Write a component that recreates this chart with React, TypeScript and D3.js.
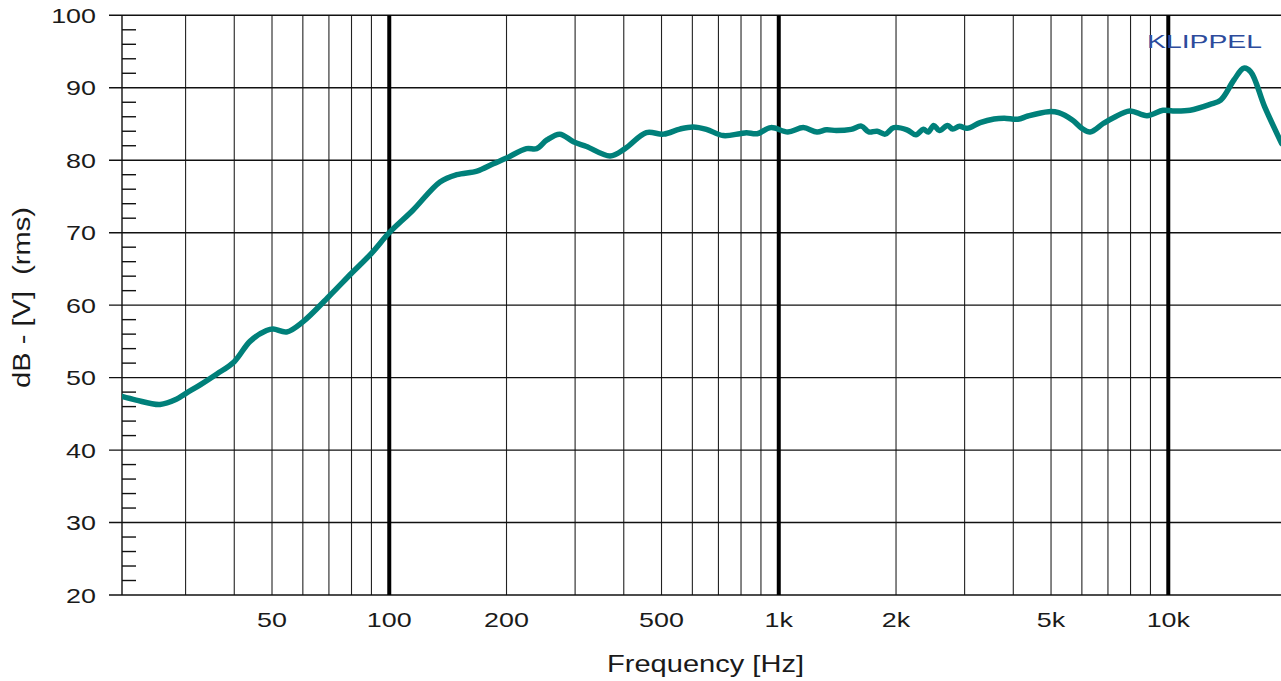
import React from "react";
import * as d3 from "d3";

// Frequency response (Hz, dB)
const freqs: number[] = [
  20.6, 22.4, 25.8, 28.4, 30, 32.7, 36.1, 40, 43.9, 48.4, 50.4, 54.5, 60, 70, 80, 90, 100,
  115, 135, 149, 168, 185, 200, 225, 239, 254, 274, 297, 321, 369, 403, 457, 506, 557, 603,
  652, 720, 794, 826, 880, 954, 1055, 1156, 1253, 1325, 1405, 1533, 1630, 1702, 1788, 1875,
  1973, 2133, 2250, 2350, 2420, 2500, 2584, 2713, 2797, 2910, 3043, 3288, 3570, 3795, 4110,
  4360, 4925, 5230, 5670, 6000, 6300, 6820, 7250, 7960, 8820, 9700, 10270, 11380, 12800,
  13630, 14740, 15620, 16280, 17670, 19550,
];
const levels: number[] = [
  47.4, 46.9, 46.3, 47.0, 47.8, 49.0, 50.5, 52.2, 55.0, 56.5, 56.7, 56.3, 57.7, 61.2, 64.4, 67.15, 70.0,
  73.1, 77.0, 78.0, 78.5, 79.5, 80.3, 81.6, 81.6, 82.8, 83.6, 82.55, 81.9, 80.6, 81.6, 83.8, 83.6, 84.3, 84.6,
  84.26, 83.4, 83.66, 83.8, 83.66, 84.5, 83.9, 84.5, 83.9, 84.2, 84.1, 84.26, 84.7, 83.9, 84.0, 83.6,
  84.5, 84.2, 83.5, 84.26, 83.9, 84.8, 84.1, 84.8, 84.3, 84.7, 84.4, 85.2, 85.7, 85.8, 85.65,
  86.1, 86.7, 86.56, 85.55, 84.4, 83.9, 85.1, 85.9, 86.8, 86.15, 86.9, 86.8, 86.9, 87.7,
  88.3, 91.07, 92.7, 92.2, 87.4, 82.3,
];

const xTickValues: number[] = [50, 100, 200, 500, 1000, 2000, 5000, 10000];
const xTickLabels: string[] = ["50", "100", "200", "500", "1k", "2k", "5k", "10k"];
const majorFreqs: number[] = [100, 1000, 10000];
const minorFreqs: number[] = [
  30, 40, 50, 60, 70, 80, 90, 200, 300, 400, 500, 600, 700, 800, 900,
  2000, 3000, 4000, 5000, 6000, 7000, 8000, 9000,
];
const yTickValues: number[] = [20, 30, 40, 50, 60, 70, 80, 90, 100];
const yMinorValues: number[] = d3.range(22, 100, 2).filter((v) => v % 10 !== 0);

const W = 1281;
const H = 681;
const left = 122;
const right = 1281;
const top = 15.3;
const bottom = 595;

export default function App() {
  const x = d3.scaleLog().domain([20.6, 19470]).range([left, right]);
  const y = d3.scaleLinear().domain([20, 100]).range([bottom, top]);
  const data = freqs.map((f, i) => [f, levels[i]] as [number, number]);
  const line = d3
    .line<[number, number]>()
    .x((d) => x(d[0]))
    .y((d) => y(d[1]))
    .curve(d3.curveCatmullRom.alpha(0.5));
  const font = "'Liberation Sans', Arial, sans-serif";
  const textColor = "#1a1a1a";

  return (
    <svg
      width={W}
      height={H}
      style={{ position: "absolute", left: 0, top: 0, background: "#fff" }}
    >
      <defs>
        <clipPath id="plotClip">
          <rect x={left} y={top - 10} width={right - left} height={bottom - top + 20} />
        </clipPath>
      </defs>
      <rect x={0} y={0} width={W} height={H} fill="#fff" />
      {/* thin vertical grid */}
      {minorFreqs.map((f) => (
        <line key={"v" + f} x1={x(f)} x2={x(f)} y1={top} y2={bottom} stroke="#222" strokeWidth={1.1} />
      ))}
      {/* horizontal grid */}
      {yTickValues.map((v) => (
        <line key={"h" + v} x1={109} x2={right} y1={y(v)} y2={y(v)} stroke="#111" strokeWidth={1.4} />
      ))}
      {/* minor y ticks */}
      {yMinorValues.map((v) => (
        <line key={"m" + v} x1={left} x2={136} y1={y(v)} y2={y(v)} stroke="#111" strokeWidth={1.4} />
      ))}
      {/* left axis */}
      <line x1={left} x2={left} y1={top} y2={bottom} stroke="#111" strokeWidth={1.4} />
      {/* thick decade lines */}
      {majorFreqs.map((f) => (
        <line key={"M" + f} x1={x(f)} x2={x(f)} y1={top} y2={bottom} stroke="#000" strokeWidth={4} />
      ))}
      {/* curve */}
      <g clipPath="url(#plotClip)">
        <path
          d={line(data) || ""}
          fill="none"
          stroke="#00807a"
          strokeWidth={5.5}
          strokeLinejoin="round"
          strokeLinecap="round"
        />
      </g>
      {/* y tick labels */}
      {yTickValues.map((v) => (
        <text
          key={"yl" + v}
          transform={`translate(96,${y(v) + 7.5}) scale(1.28,1)`}
          textAnchor="end"
          fontFamily={font}
          fontSize={21}
          fill={textColor}
        >
          {v}
        </text>
      ))}
      {/* x tick labels */}
      {xTickValues.map((f, i) => (
        <text
          key={"xl" + f}
          transform={`translate(${x(f)},627) scale(1.28,1)`}
          textAnchor="middle"
          fontFamily={font}
          fontSize={21}
          fill={textColor}
        >
          {xTickLabels[i]}
        </text>
      ))}
      {/* axis titles */}
      <text
        x={705.5}
        y={672}
        textAnchor="middle"
        fontFamily={font}
        fontSize={24}
        fill={textColor}
        textLength={197}
        lengthAdjust="spacingAndGlyphs"
      >
        Frequency [Hz]
      </text>
      <text
        transform="translate(29.5,297.5) rotate(-90)"
        textAnchor="middle"
        fontFamily={font}
        fontSize={23}
        fill={textColor}
        textLength={181}
        lengthAdjust="spacingAndGlyphs"
        style={{ whiteSpace: "pre" }}
      >
        {"dB - [V]  (rms)"}
      </text>
      <text
        x={1147}
        y={47.5}
        fontFamily={font}
        fontSize={18.5}
        fill="#2d4b9c"
        textLength={115}
        lengthAdjust="spacingAndGlyphs"
      >
        KLIPPEL
      </text>
    </svg>
  );
}
